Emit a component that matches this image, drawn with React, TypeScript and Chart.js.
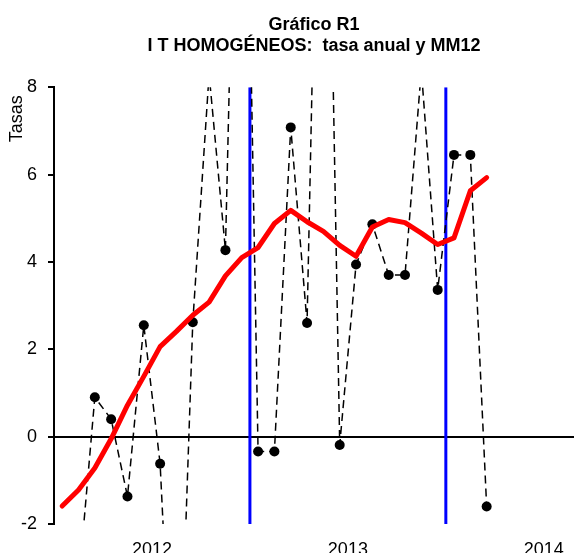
import React, { useEffect, useRef } from 'react';
import { Chart, registerables } from 'chart.js';

Chart.register(...registerables);

// Monthly observations (year-month)
const months = [
  '2011-07', '2011-08', '2011-09', '2011-10', '2011-11', '2011-12',
  '2012-01', '2012-02', '2012-03', '2012-04', '2012-05', '2012-06',
  '2012-07', '2012-08', '2012-09', '2012-10', '2012-11', '2012-12',
  '2013-01', '2013-02', '2013-03', '2013-04', '2013-05', '2013-06',
  '2013-07', '2013-08', '2013-09',
];

// Tasa anual (dashed with markers)
const tasaAnual: (number | null)[] = [
  null, -3.4, 0.9, 0.4, -1.37, 2.55,
  -0.62, -8.3, 2.62, 8.3, 4.27, 20.3,
  -0.34, -0.34, 7.08, 2.6, 20.5, -0.19,
  3.94, 4.86, 3.7, 3.7, 8.4, 3.36,
  6.45, 6.45, -1.6,
];

// MM12 (thick red)
const mm12: number[] = [
  -1.59, -1.22, -0.72, -0.05, 0.72, 1.38,
  2.06, 2.41, 2.78, 3.08, 3.68, 4.1,
  4.33, 4.88, 5.18, 4.92, 4.7, 4.38,
  4.13, 4.8, 4.97, 4.9, 4.66, 4.4,
  4.55, 5.63, 5.93,
];

// Vertical reference lines (start of month)
const markerMonths = ['2012-07', '2013-07'];

// Axis
const yearTicks = [2012, 2013, 2014];
const axisStart = '2011-07';
const axisEndMonths = 25.85; // months after Jan 2012 where the plot ends
const yTicks = [-2, 0, 2, 4, 6, 8];
const yAxisTitle = 'Tasas';
const titleLines = ['Gráfico R1', 'I T HOMOGÉNEOS:  tasa anual y MM12'];

const monthIndex = (s: string) => {
  const [y, m] = s.split('-').map(Number);
  return (y - 2012) * 12 + (m - 1);
};

const FONT = "'Liberation Sans', Arial, sans-serif";

const yTitlePlugin = {
  id: 'yTitle',
  afterDraw(chart: any) {
    const { ctx, chartArea } = chart;
    ctx.save();
    ctx.translate(17.5, chartArea.top + 8);
    ctx.rotate(-Math.PI / 2);
    ctx.textAlign = 'right';
    ctx.textBaseline = 'middle';
    ctx.fillStyle = '#000';
    ctx.font = `18px ${FONT}`;
    ctx.fillText(yAxisTitle, 0, 0);
    ctx.restore();
  },
};

export default function App() {
  const ref = useRef<HTMLCanvasElement | null>(null);

  useEffect(() => {
    if (!ref.current) return;

    const markerSets = markerMonths.map((mm) => ({
      type: 'line' as const,
      data: [
        { x: monthIndex(mm), y: yTicks[0] },
        { x: monthIndex(mm), y: yTicks[yTicks.length - 1] },
      ],
      borderColor: '#0000ff',
      borderWidth: 3,
      pointRadius: 0,
      order: 3,
      clip: 0,
    }));

    const chart = new Chart(ref.current, {
      type: 'line',
      data: {
        datasets: [
          {
            label: 'MM12',
            data: months.map((m, i) => ({ x: monthIndex(m) + 0.5, y: mm12[i] })),
            borderColor: '#ff0000',
            borderWidth: 5,
            borderJoinStyle: 'round',
            borderCapStyle: 'round',
            pointRadius: 0,
            order: 1,
            clip: 0,
          },
          {
            label: 'Tasa anual',
            data: months.map((m, i) => ({ x: monthIndex(m) + 0.5, y: tasaAnual[i] })),
            borderColor: '#000000',
            borderWidth: 1.5,
            borderDash: [8, 5],
            pointRadius: 5,
            pointBackgroundColor: '#000000',
            pointBorderWidth: 0,
            spanGaps: false,
            order: 2,
            clip: 0,
          },
          ...markerSets,
        ] as any,
      },
      options: {
        animation: false,
        responsive: false,
        events: [],
        layout: { padding: 0, autoPadding: false },
        plugins: {
          legend: { display: false },
          tooltip: { enabled: false },
          title: {
            display: true,
            fullSize: false,
            text: titleLines,
            color: '#000',
            font: { family: FONT, size: 18, weight: 'bold', lineHeight: 1.2 },
            padding: { top: 14, bottom: 30 },
          },
        },
        scales: {
          x: {
            type: 'linear',
            min: monthIndex(axisStart),
            max: axisEndMonths,
            grid: { display: false, drawTicks: false },
            border: { display: false },
            afterBuildTicks: (scale: any) => {
              scale.ticks = yearTicks.map((y) => ({ value: (y - 2012) * 12 }));
            },
            afterFit: (scale: any) => {
              scale.height = 29;
              scale.paddingLeft = 0;
              scale.paddingRight = 0;
            },
            ticks: {
              autoSkip: false,
              maxRotation: 0,
              padding: 15,
              color: '#000',
              font: { family: FONT, size: 18 },
              callback: (v: any) => String(2012 + Math.round(Number(v) / 12)),
            },
          },
          y: {
            type: 'linear',
            min: yTicks[0],
            max: yTicks[yTicks.length - 1],
            afterBuildTicks: (scale: any) => {
              scale.ticks = yTicks.map((v) => ({ value: v }));
            },
            afterFit: (scale: any) => {
              scale.width = 54;
            },
            grid: {
              drawOnChartArea: true,
              drawTicks: true,
              tickLength: 6,
              lineWidth: 2,
              tickColor: '#000',
              color: (ctx: any) => (ctx.tick && ctx.tick.value === 0 ? '#000' : 'rgba(0,0,0,0)'),
            },
            border: { display: true, color: '#000', width: 2 },
            ticks: {
              padding: 11,
              color: '#000',
              font: { family: FONT, size: 18 },
            },
          },
        },
      } as any,
      plugins: [yTitlePlugin],
    });

    return () => chart.destroy();
  }, []);

  return (
    <div style={{ position: 'fixed', left: 0, top: 0, width: 574, height: 553, background: '#fff' }}>
      <canvas ref={ref} width={574} height={553} style={{ display: 'block' }} />
    </div>
  );
}
